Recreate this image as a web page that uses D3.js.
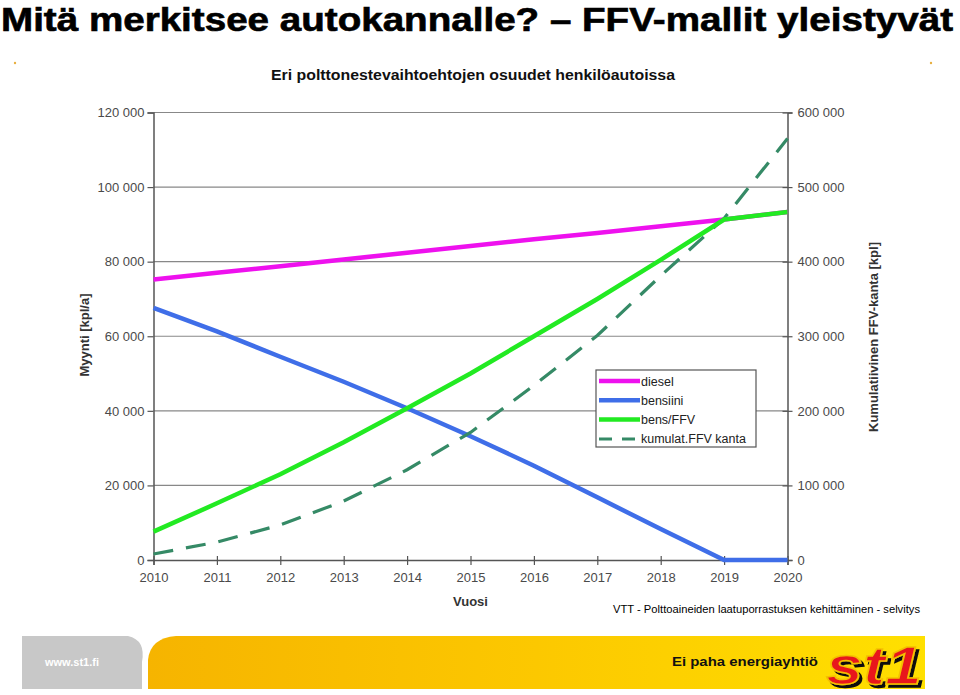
<!DOCTYPE html>
<html><head><meta charset="utf-8">
<script src="https://cdn.jsdelivr.net/npm/d3@7"></script>
<style>body{margin:0;background:#fff}svg{display:block}</style>
</head><body>
<svg id="c" width="960" height="695"></svg>
<script>
const years = [2010,2011,2012,2013,2014,2015,2016,2017,2018,2019,2020];
const diesel = [75.2,77.0,78.8,80.6,82.4,84.2,86.0,87.7,89.5,91.3,93.3].map(v=>v*1000);
const bensiini = [67.6,61.3,54.5,47.8,40.7,33.2,25.3,16.8,8.3,0,0].map(v=>v*1000);
const bensFFV = [7.6,15.2,23.0,31.6,40.7,50.0,60.0,70.0,80.5,91.3,93.3].map(v=>v*1000);
const kumulat = [8,24,47,79,121,171,234,301,381,458,565].map(v=>v*1000);
const leftTicks = [0,20000,40000,60000,80000,100000,120000];
const rightTicks = [0,100000,200000,300000,400000,500000,600000];
const seriesNames = ["diesel","bensiini","bens/FFV","kumulat.FFV kanta"];

const svg = d3.select("#c");
const F = "'Liberation Sans', Arial, sans-serif";
const fmt = v => d3.format(",")(v).replace(/,/g," ");

// main title
svg.append("text").attr("transform","translate(1,31) scale(1,1.06)").attr("font-family",F).attr("font-weight","bold")
  .attr("font-size",31).attr("textLength",952).attr("lengthAdjust","spacingAndGlyphs")
  .attr("stroke","#000").attr("stroke-width",0.6)
  .attr("fill","#000").text("Mitä merkitsee autokannalle? – FFV-mallit yleistyvät");

// small decorative dots
svg.append("circle").attr("cx",15).attr("cy",63).attr("r",1.2).attr("fill","#e8b040");
svg.append("circle").attr("cx",931).attr("cy",63).attr("r",1.2).attr("fill","#e8b040");

// chart title
svg.append("text").attr("x",473).attr("y",80).attr("text-anchor","middle").attr("font-family",F)
  .attr("font-weight","bold").attr("font-size",14).attr("textLength",404).attr("lengthAdjust","spacingAndGlyphs")
  .attr("fill","#111").text("Eri polttonestevaihtoehtojen osuudet henkilöautoissa");

const x = d3.scaleLinear().domain([2010,2020]).range([153.5,787.5]);
const yL = d3.scaleLinear().domain([0,120000]).range([560,112.5]);
const yR = d3.scaleLinear().domain([0,600000]).range([560,112.5]);

// gridlines
svg.append("g").selectAll("line").data(leftTicks.filter(d=>d>0)).join("line")
  .attr("x1",x(2010)).attr("x2",x(2020)).attr("y1",d=>yL(d)).attr("y2",d=>yL(d))
  .attr("stroke","#888").attr("stroke-width",1.2);

// axes
const axL = svg.append("g").attr("transform",`translate(${x(2010)},0)`)
  .call(d3.axisLeft(yL).tickValues(leftTicks).tickFormat(fmt).tickSize(6).tickPadding(3));
const axR = svg.append("g").attr("transform",`translate(${x(2020)},0)`)
  .call(d3.axisRight(yR).tickValues(rightTicks).tickFormat(fmt).tickSize(5).tickPadding(5));
axR.selectAll(".tick line").attr("x1",-5);
const axB = svg.append("g").attr("transform",`translate(0,${yL(0)})`)
  .call(d3.axisBottom(x).tickValues(years).tickFormat(d3.format("d")).tickSize(5).tickPadding(8));
[axL,axR,axB].forEach(a=>{
  a.selectAll("path").attr("stroke","#555").attr("stroke-width",1.5);
  a.selectAll(".tick line").attr("stroke","#555").attr("stroke-width",1.2);
  a.selectAll("text").attr("font-family",F).attr("font-size",13).attr("fill","#4a4a4a");
});
axB.selectAll(".tick line").attr("y1",-4);

// axis titles
svg.append("text").attr("x",x(2015)).attr("y",606).attr("text-anchor","middle").attr("font-family",F)
  .attr("font-weight","bold").attr("font-size",13).attr("fill","#333").text("Vuosi");
svg.append("text").attr("transform","translate(89,335) rotate(-90)").attr("text-anchor","middle")
  .attr("font-family",F).attr("font-weight","bold").attr("font-size",13).attr("fill","#333").text("Myynti [kpl/a]");
svg.append("text").attr("transform","translate(878,337) rotate(-90)").attr("text-anchor","middle")
  .attr("font-family",F).attr("font-weight","bold").attr("font-size",13).attr("fill","#333").text("Kumulatiivinen FFV-kanta [kpl]");

// lines
const lineL = d3.line().x((d,i)=>x(years[i])).y(d=>yL(d));
const lineR = d3.line().x((d,i)=>x(years[i])).y(d=>yR(d));
const colors = ["#ee11ee","#3f6ee8","#22ea22","#358a66"];
const plot = svg.append("g");
plot.append("path").datum(diesel).attr("d",lineL).attr("fill","none").attr("stroke",colors[0]).attr("stroke-width",4.5);
plot.append("path").datum(bensiini).attr("d",lineL).attr("fill","none").attr("stroke",colors[1]).attr("stroke-width",4.5);
plot.append("path").datum(kumulat).attr("d",lineR).attr("fill","none").attr("stroke",colors[3]).attr("stroke-width",3.2)
  .attr("stroke-dasharray","20,13");
plot.append("path").datum(bensFFV).attr("d",lineL).attr("fill","none").attr("stroke",colors[2]).attr("stroke-width",4.5);

// legend
const lg = svg.append("g").attr("transform","translate(596,370)");
lg.append("rect").attr("width",160).attr("height",77).attr("fill","#fff").attr("stroke","#555").attr("stroke-width",1.2);
seriesNames.forEach((n,i)=>{
  const yy = 11 + i*19.3;
  lg.append("line").attr("x1",3).attr("x2",44).attr("y1",yy).attr("y2",yy).attr("stroke",colors[i])
    .attr("stroke-width", i==3?3:4.5).attr("stroke-dasharray", i==3?"13,10":null);
  lg.append("text").attr("x",45).attr("y",yy+4.5).attr("font-family",F).attr("font-size",12.5).attr("fill","#222").text(n);
});

// source
svg.append("text").attr("x",613).attr("y",613).attr("font-family",F).attr("font-size",11.5).attr("fill","#000")
  .attr("textLength",307).attr("lengthAdjust","spacingAndGlyphs")
  .text("VTT - Polttoaineiden laatuporrastuksen  kehittäminen - selvitys");

// footer
const defs = svg.append("defs");
const gr = defs.append("linearGradient").attr("id","yg").attr("x1","0").attr("x2","1");
gr.append("stop").attr("offset","0").attr("stop-color","#f6b400");
gr.append("stop").attr("offset","0.5").attr("stop-color","#fcc800");
gr.append("stop").attr("offset","1").attr("stop-color","#ffe000");
const flt = defs.append("filter").attr("id","sh").attr("x","-10%").attr("y","-10%").attr("width","130%").attr("height","130%");
flt.append("feDropShadow").attr("dx",3).attr("dy",3).attr("stdDeviation",0.5).attr("flood-color","#111").attr("flood-opacity",1);
svg.append("path").attr("d","M22,636 L128,636 Q146,640 142,662 L142,689 L22,689 Z").attr("fill","#c8c8c8");
svg.append("text").attr("x",45).attr("y",666).attr("font-family",F).attr("font-weight","bold").attr("font-size",11)
  .attr("fill","#fff").text("www.st1.fi");
svg.append("path").attr("d","M148,689 L148,660 Q150,638 176,636 L925,636 L925,689 Z").attr("fill","url(#yg)");
svg.append("text").attr("x",672).attr("y",666).attr("font-family",F).attr("font-weight","bold").attr("font-size",12)
  .attr("textLength",146).attr("lengthAdjust","spacingAndGlyphs").attr("fill","#111").text("Ei paha energiayhtiö");
svg.append("text").attr("x",826).attr("y",684).attr("font-family",F).attr("font-weight","bold").attr("font-style","italic")
  .attr("font-size",54).attr("textLength",96).attr("lengthAdjust","spacingAndGlyphs").attr("fill","#e8161c")
  .attr("stroke","#f4c000").attr("stroke-width",1.5).attr("filter","url(#sh)").text("st1");
</script>
</body></html>
